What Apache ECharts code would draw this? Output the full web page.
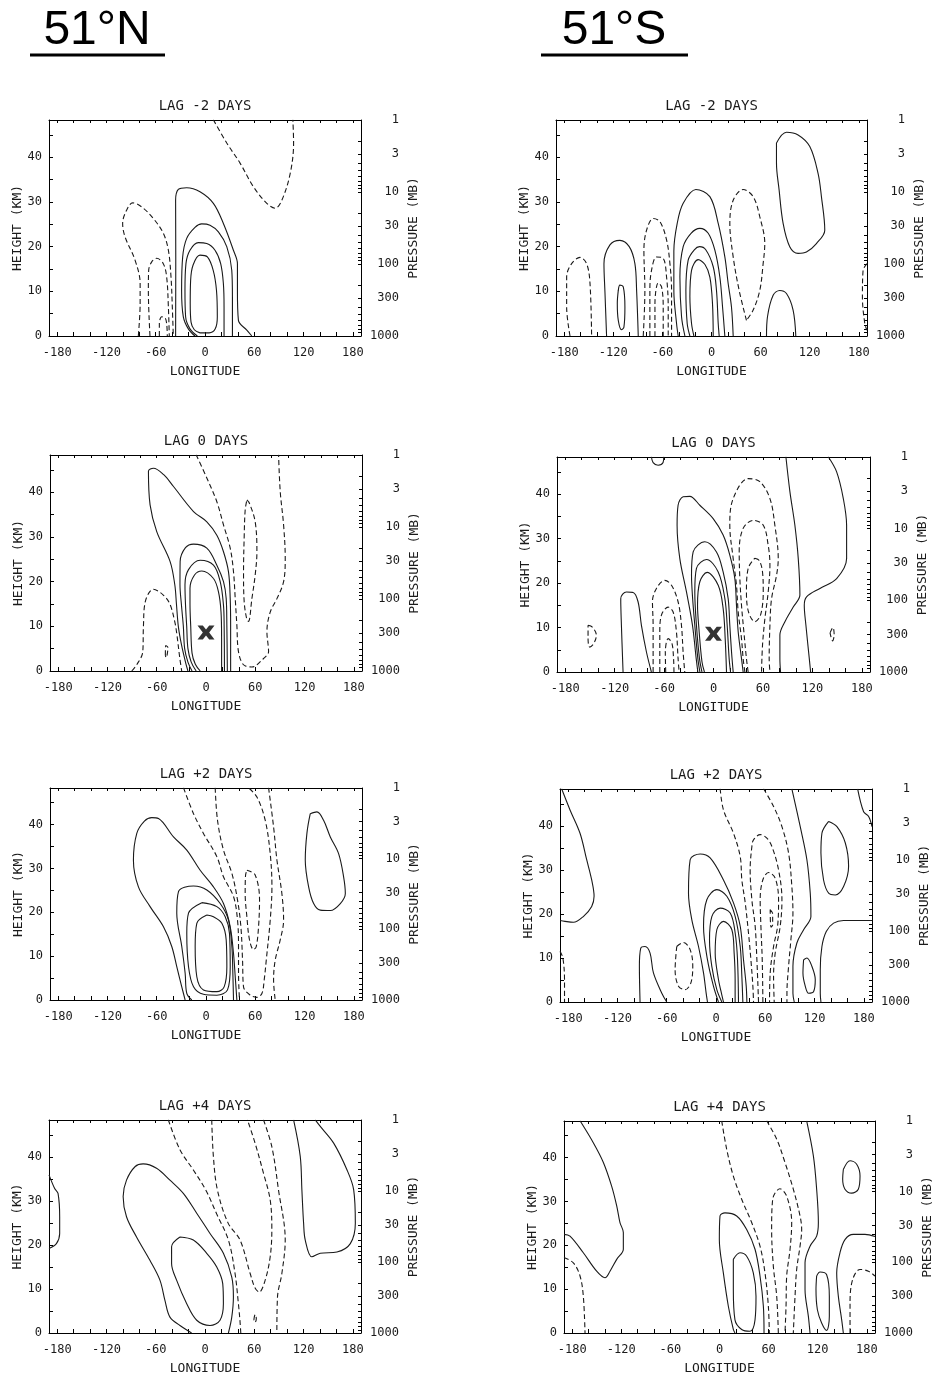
<!DOCTYPE html>
<html>
<head>
<meta charset="utf-8">
<script src="https://cdn.jsdelivr.net/npm/echarts@6/dist/echarts.min.js"></script>
<style>
html, body { margin: 0; padding: 0; background: #fff; }
#chart { width: 935px; height: 1377px; }
</style>
</head>
<body>
<div id="chart"></div>
<script>
// axis ticks and labels
var lonTicks = [-180, -120, -60, 0, 60, 120, 180];
var heightTicks = [0, 10, 20, 30, 40];
var pressureTicks = [1000, 300, 100, 30, 10, 3, 1];
var lagTitles = ['LAG -2 DAYS', 'LAG 0 DAYS', 'LAG +2 DAYS', 'LAG +4 DAYS'];
var latTitles = ['51°N', '51°S'];
var basePoint = [[0, 8.6]];   // the X at lag 0

// contour lines, [longitude, height km]; solid = positive, dashed = negative

// 51N lag -2
var n_m2_solid = [
  [[-35.8,0],[-35.6,17.7],[-35.8,30.4],[-32.5,32.8],[-22.4,33.2],[-6.1,32.3],[10.2,29.7],[22.4,25.2],[34.6,19.2],[39.5,16.2],[39.5,10.2],[40.7,3.5],[50.9,1.3],[57,0]],
  [[-12.2,0],[-20.3,1.6],[-26.4,4.3],[-28.5,10.2],[-27.2,17.7],[-22.4,21.8],[-12.2,24.3],[-4,25.1],[6.1,24.8],[16.3,23.3],[26.5,20],[32.6,14.7],[33.4,8.8],[33.4,0]],
  [[-9.3,0],[-18.3,1.6],[-23.6,4.3],[-24.4,10.2],[-23.2,16.2],[-18.3,19.2],[-8.1,20.9],[2.1,20.7],[12.2,19.2],[19.1,16.2],[22.4,11.7],[23.2,6.5],[23.2,0]],
  [[-6.1,0.7],[-13,1.4],[-17,3.1],[-18,7.3],[-17.5,12.5],[-14.5,15.9],[-6.1,18.1],[2.9,17.7],[10,14.7],[14,10.2],[15,4.3],[12.5,1.6],[5,0.7],[-6.1,0.7]]
];
var n_m2_dash = [
  [[10.2,48.4],[26.5,43.2],[42.7,38.7],[59,33.4],[75.3,29.7],[85.5,28.6],[93.6,30.4],[103.8,36.4],[107.9,43.2],[107,48.4]],
  [[-81.2,0],[-79,7.3],[-79,11.7],[-85.2,17],[-97.4,22.2],[-100.3,25.2],[-95.4,28.2],[-88.1,29.8],[-77.1,28.9],[-62.9,26.3],[-50.8,23],[-44.6,19.2],[-41.4,13.2],[-39.8,6.5],[-38.6,0]],
  [[-67,0],[-69,10.2],[-68.6,14.7],[-64.9,16.6],[-58.8,17.4],[-50.8,16.2],[-46.7,13.2],[-44.6,6.5],[-43.5,0]],
  [[-55.6,0],[-55.6,2.8],[-52.7,4.3],[-48.7,4.1],[-46.7,2.8],[-45.9,0]]
];

// 51S lag -2
var s_m2_solid = [
  [[79.4,43.2],[91.6,45.6],[105.8,45],[120.1,42.4],[130.2,36.4],[134.3,31.2],[138.4,23.7],[128.2,20.7],[116,18.8],[105.8,18.5],[95.6,20],[87.5,25.2],[82.6,32.7],[79.4,38.7],[79.4,43.2]],
  [[67.2,0],[68.4,4.3],[75.3,9.1],[83.4,10.2],[91.6,9.5],[99.7,5.8],[103,0]],
  [[-40.7,0],[-42.7,2.8],[-46,10.2],[-46,19],[-41.9,25.2],[-34.6,29.7],[-19.1,32.8],[-2,31.2],[8.2,25.2],[16.3,17.7],[20.4,11.7],[24.4,6.5],[26.5,0]],
  [[-32.5,0],[-36.6,4.3],[-38.6,13.2],[-34.6,20],[-25,23],[-14.2,24.1],[-4,23],[4.1,19.2],[10.2,13.2],[13.5,6.5],[16.3,0]],
  [[-26.4,0],[-29.7,2.8],[-31.3,10.2],[-28.5,17],[-21,19.3],[-14.6,20],[-7,19.3],[2.1,15.5],[6.1,10.2],[8.2,2.8],[9.4,0]],
  [[-21.5,0],[-24.4,2.8],[-26.4,8.8],[-24.4,14.7],[-16.3,17.1],[-8,16],[-2,13.2],[1.2,7.3],[2.1,0]],
  [[-128.2,0],[-130.2,9.9],[-131.4,16.2],[-124.1,20.4],[-111.9,21.4],[-100.5,20],[-93.6,16.2],[-91.5,10.2],[-89.5,0]],
  [[-113.9,10.2],[-111.9,11.4],[-107.8,11],[-105.8,6.5],[-107,2],[-110,1.4],[-113.9,3.5],[-115.1,7.3],[-113.9,10.2]]
];
var s_m2_dash = [
  [[42.7,3.5],[33.8,10.2],[26.5,17.7],[22.4,25.2],[26.5,30.4],[38.7,32.8],[50.9,31.2],[59,26.7],[65.1,20.7],[63.1,16.2],[59,10.2],[50.9,5.8],[42.7,3.5]],
  [[190,16.2],[185.2,14.7],[184.4,8.8],[187.3,2.8],[190,1.3]],
  [[-172.9,0],[-177,6.5],[-177,13.2],[-170.9,16.2],[-160.7,17.6],[-152.6,16.2],[-148.5,11.9],[-146.5,0]],
  [[-83.4,0],[-81.4,10.2],[-82.6,19.2],[-79.3,23.7],[-71.2,26.3],[-63,25.6],[-54.9,21.5],[-50.8,16.2],[-48.8,10.2],[-48.8,0]],
  [[-75.3,0],[-75.3,10.2],[-73.3,14.7],[-67.1,17.7],[-59,17.4],[-54.9,13.2],[-52.9,6.5],[-52.9,0]],
  [[-69.1,0],[-69.1,7.3],[-65.1,11.9],[-61,11],[-59,6.5],[-59,0]]
];

// 51N lag 0
var n_0_solid = [
  [[-22,0],[-25,2],[-30,6],[-33.7,10],[-36,15],[-38,19.3],[-43.7,24.5],[-60,31.2],[-68.1,37.2],[-70.1,44.7],[-64,45.4],[-51.8,44],[-39.6,41.3],[-15.2,35.7],[1,33.4],[13.2,30.4],[21.3,26.7],[27.4,22.2],[29.5,16.2],[30,10.2],[30,0]],
  [[-17,0],[-22,2],[-26,5],[-27.6,10],[-30,15],[-31.7,19.3],[-31.5,24.5],[-25,27.6],[-15.2,28.4],[1,27.5],[13.2,23.7],[21.3,20],[24.6,16.2],[25.4,10.2],[26,0]],
  [[-12,0],[-18,2],[-22,5],[-23.5,10],[-25,15],[-25.6,19.3],[-21.3,22.7],[-7.1,24.8],[9.1,23.7],[17.3,20],[21.3,14.7],[22.1,10.2],[22.5,0]],
  [[-7,0],[-13,1.5],[-17,4],[-18.6,10],[-19.5,15],[-19.5,18.5],[-14,21.5],[-5.1,22.4],[9.1,20.7],[15.2,17.7],[18.3,13.2],[19,7.3],[19,0]]
];
var n_0_dash = [
  [[-90.4,0],[-84,1.5],[-77,4.3],[-76.2,10],[-74,15.5],[-64,18.3],[-52,17],[-44,15],[-38,11],[-35.7,8.5],[-32,3],[-29.6,0]],
  [[-49.5,3.5],[-49,5.7],[-46.5,5.3],[-47,4],[-48.5,3],[-49.5,3.5]],
  [[-12,48.4],[1,43.2],[13.2,37.9],[21.3,32.7],[29.5,27.5],[33.5,22.2],[35.6,16.2],[37.6,10.2],[39.6,4.3],[45.7,1.4],[55.9,0.9],[70.1,2.8],[76.2,4.3],[74.2,8.8],[78.2,13.2],[86.4,16.2],[94.5,20],[96.5,25.2],[94.5,32.7],[90.4,40.2],[88.4,48.4]],
  [[49.8,38.3],[53,37.5],[59.9,33.4],[62,26.7],[59.9,21.5],[55.9,16.2],[51.8,11.1],[49.8,11.5],[46.5,15.5],[45.7,22],[46.5,30],[47.7,36],[49.8,38.3]]
];

// 51S lag 0
var s_0_solid = [
  [[-75.4,48.4],[-73.3,47.1],[-67.3,46.5],[-61.2,47.1],[-60.4,48.4]],
  [[-19,0],[-21,3],[-25.5,10.5],[-32.8,18],[-40.9,25.5],[-44.2,33],[-43,37.5],[-36.9,39.4],[-28.8,39.5],[-16.6,37.5],[-0.4,34.5],[11.7,30.8],[19.8,26.3],[25.9,21],[27.9,15],[30,9],[34,3],[36,0]],
  [[-16.5,0],[-19,3],[-22.7,10.5],[-25.5,17],[-26.7,21.8],[-24.7,27],[-10.5,29.3],[3.6,27],[11.7,22.5],[17.8,16.5],[19.8,10.5],[21.9,4.5],[23.9,0]],
  [[-14,0],[-17,3],[-20.7,10.5],[-22.7,18],[-20.7,23.3],[-8.5,25.3],[5.7,22.5],[13.8,16.5],[16.6,10.5],[19,3],[20.7,0]],
  [[-11,0],[-14,2.3],[-17.8,10],[-19.4,15],[-16.6,20.3],[-7.7,22.4],[5.7,19.5],[11.7,14.3],[14.2,7.5],[15.8,0]],
  [[-109.8,0],[-111.8,10.5],[-112.6,16.5],[-105.7,18],[-97.6,17.9],[-91.6,15.8],[-87.5,10.5],[-81.4,4.5],[-75.4,0]],
  [[87.9,48.4],[92.8,40.5],[98.8,33],[102.9,25.5],[104.9,17.3],[96.8,14.6],[86.7,11.3],[80.6,8.3],[80.6,3],[81.4,0]],
  [[139.3,48.4],[149.5,45],[157.6,39],[161.6,33],[161.6,25.5],[149.5,21],[129.2,18.8],[113,16.9],[110.2,15],[112.2,10.5],[116.3,3],[117.9,0]]
];
var s_0_dash = [
  [[-152.3,10.5],[-147.1,10.1],[-142.2,8.3],[-145.4,6.4],[-150.3,5.6],[-152.3,7.5],[-152.3,10.5]],
  [[-73.3,0],[-73.3,10.5],[-74.1,15.8],[-69.3,18.8],[-59.1,20.6],[-51,19.5],[-43,15.8],[-38.9,10.5],[-36.9,4.5],[-34.9,0]],
  [[-65.2,0],[-65.2,9],[-63.2,12.8],[-55.1,14.6],[-49,13.5],[-45,9],[-43,3],[-41.7,0]],
  [[-58,0],[-58.5,4.5],[-55,7.5],[-50.5,6.5],[-48.5,3],[-48,0]],
  [[38.1,0],[36,3],[34,7.5],[30,13.5],[27.9,19.5],[23.9,25.5],[19.8,33],[23.9,39],[42.1,43.5],[56.3,42.8],[68.5,39],[74.5,33],[78.6,25.5],[76.6,21.8],[70.5,16.5],[68.5,10.5],[67.6,3],[68.5,0]],
  [[42.1,0],[40,3],[36.9,9],[34,15],[32,21],[31.2,27],[36,32.3],[48.2,34.1],[60.4,33],[66.4,28.5],[68.5,24],[66.4,18],[62.4,12],[59.5,6],[58.3,0]],
  [[50.2,25.6],[55.5,25.1],[59.5,22.5],[60.4,18],[57.1,12.8],[50.2,11.3],[42.5,13.5],[40,18],[42.1,23.3],[50.2,25.6]],
  [[141.5,8.8],[145,10],[146.5,8.3],[144.5,7],[141.5,8.8]]
];

// 51N lag +2
var n_p2_solid = [
  [[-25.4,0],[-29.5,3],[-35.6,7.6],[-41.7,12.2],[-51.8,16.7],[-68.1,21.3],[-82.3,25.8],[-88.4,31.9],[-84.3,38],[-75,40.8],[-66,41.6],[-57.9,41.4],[-39.6,37.2],[-23.4,34.2],[-7.1,29.6],[9.1,25.8],[21.3,22],[29.5,16.7],[33.5,10.6],[35.6,5.3],[37.6,0]],
  [[-17.3,0],[-23.4,1.5],[-25.4,6.1],[-29.5,12.2],[-35.6,19.8],[-33.5,24.7],[-15.2,26],[1,25.1],[17.3,22],[27.4,18.2],[31.5,12.2],[32.7,6.1],[33.5,0]],
  [[-5.1,22.2],[-21.3,19.8],[-23.4,15.2],[-21.3,7.6],[-15.2,3],[-3.1,1.3],[13.2,1.1],[26.2,2.3],[29.5,7.6],[28.6,15.2],[23.4,19],[13.2,21.3],[-5.1,22.2]],
  [[1,19.4],[-11.2,17.5],[-13.2,12.2],[-11.2,5.3],[-3.1,2.3],[13.2,1.9],[22.1,3],[25.4,7.6],[24.6,13.7],[19.3,17.5],[9.1,19],[1,19.4]],
  [[127,42.5],[135.1,42.9],[143.2,41],[151.4,37.2],[161.5,33.4],[167.6,28.1],[169.7,24.3],[163.6,22],[151.4,20.4],[139.2,20.5],[131.1,22],[125,25.8],[120.9,31.9],[122.9,38],[127,42.5]]
];
var n_p2_dash = [
  [[-27.4,48.4],[-15.2,42.5],[-3.1,38],[13.2,32.7],[21.3,28.1],[33.5,23.6],[38.4,18.2],[39.6,12.2],[39.6,6.1],[40.8,0]],
  [[76.2,48.4],[82.3,39.5],[86.4,31.9],[92.4,24.3],[94.5,18.2],[90.4,13.7],[84.3,9.1],[82.3,4.6],[84.3,0]],
  [[11.2,48.4],[14,41],[21.3,34.2],[31.5,28.9],[38.4,22.8],[42.5,16.7],[44.5,9.1],[45.7,3],[53.8,1.1],[62,0.6],[68.1,1.5],[70.9,4.6],[73.4,9.1],[78.2,18.2],[80.3,25.8],[78.2,33.4],[72.1,41],[62,46.3],[51.8,48.4]],
  [[49.8,29.6],[59.9,28.5],[65.2,22.8],[64,16.7],[61.2,12.2],[57.9,11.5],[53,13.7],[49.8,19],[47.7,24.3],[48.2,28.5],[49.8,29.6]]
];

// 51S lag +2
var s_p2_solid = [
  [[-188,48.4],[-177.8,43.6],[-165.6,38.3],[-157.5,32.3],[-151.4,27.7],[-148.5,24],[-151.4,21.7],[-161.6,19.4],[-173.7,18.1],[-183.9,18.3],[-190,18.5]],
  [[-92.5,0],[-93.3,8.1],[-91.7,12.2],[-86.4,12.6],[-80.3,11.1],[-76.2,6.6],[-66,2],[-60,0]],
  [[-10.4,0],[-12,2],[-15.2,6.6],[-21.3,12.6],[-29.5,18.7],[-33.5,24.7],[-31.5,32.3],[-19.3,33.6],[-7.1,32.7],[9.1,27.7],[21.3,22.5],[29.5,17.2],[33.5,9.6],[36.8,3.6],[37.6,0]],
  [[3,0],[-3.1,3.6],[-10.4,9.6],[-15.2,17.2],[-11.2,23.2],[1,25.5],[13.2,24],[23.4,19.4],[29.5,12.6],[31.5,5.8],[32.7,0]],
  [[7.1,0],[1,2.8],[-5.1,8.1],[-7.9,14.1],[-5.1,19.4],[5.1,21.3],[17.3,20.2],[23.4,15.6],[26.2,9.6],[27.4,0]],
  [[9.1,0],[6,2.5],[3,5.1],[-1,11.1],[1,16.4],[9.1,18.3],[19.3,16.4],[22.1,11.1],[23.3,5.1],[23.3,0]],
  [[92.4,48.4],[102.6,39.8],[110.7,32.3],[114.8,24.7],[115.6,19.4],[106.7,16.4],[98.5,13.4],[93.7,8.1],[93.7,2],[95.3,0]],
  [[190,18.5],[155.4,18.5],[143.2,17.9],[134.3,16],[129,12.6],[127,7.3],[127,2],[127.8,0]],
  [[172.5,48.4],[179.8,43.2],[185.9,42.1],[190,39.8]],
  [[137.2,41],[147.3,39.8],[157.5,36.1],[161.5,30.8],[155.4,26.2],[145.3,24.3],[137.2,24.7],[131,27.7],[127.8,33.8],[129,38.3],[137.2,41]],
  [[106.7,9.6],[110.7,10],[116.8,8.1],[120.9,5.1],[118.9,2.4],[112.8,2],[108.7,3.6],[105.9,6.6],[106.7,9.6]]
];
var s_p2_dash = [
  [[-190,11.5],[-186.5,10],[-184.5,5],[-184.5,0]],
  [[-47.8,12.6],[-39.6,13.5],[-31.5,11.9],[-28.3,8.1],[-30.7,4.3],[-37.6,2.8],[-45.7,3.6],[-49.8,7.3],[-47.8,12.6]],
  [[5.1,48.4],[9.1,43.6],[21.3,38.3],[29.5,33],[31.5,27.7],[35.6,22.5],[39.6,15.6],[42.5,9.6],[44.9,3.6],[45.7,0]],
  [[57.9,48.4],[70.1,44.4],[80.3,39.8],[88.4,33.8],[92.4,26.2],[93.7,20.2],[91.2,14.1],[88.4,8.1],[86.4,2],[86.4,0]],
  [[51.8,0],[49.8,9.6],[47.7,17.2],[43.7,23.2],[41.6,30],[43.7,35.3],[45.7,36.8],[53.8,38],[62,37.2],[68.1,35.3],[76.2,30],[80.3,23.2],[78.2,17.2],[72.1,11.1],[70.1,5.8],[70.9,0]],
  [[57.1,0],[56.3,9.6],[54.7,17.2],[53.8,23.2],[57,27.7],[64,29.4],[72.1,28.1],[76.2,23.2],[75,17.2],[70.1,12.6],[66,6.6],[65.2,0]],
  [[66,21],[69,20],[69,17.5],[67,17],[66,21]]
];

// 51N lag +4
var n_p4_solid = [
  [[-190,35.9],[-183.1,32.8],[-179,31.7],[-177,26.4],[-177,22.6],[-181,20.3],[-190,19.2]],
  [[-16.3,0],[-30.5,1.7],[-42.7,3.6],[-48.8,7.4],[-54.9,12],[-67.1,16.5],[-83.4,21.8],[-95.6,26.4],[-99.7,31],[-95.6,34.7],[-85,37.8],[-75.3,38.4],[-59,37.4],[-42.7,34.7],[-26.4,31.7],[-10.1,27.2],[6.1,22.6],[22.4,18.1],[32.6,12.7],[34.6,8.2],[32.6,3.6],[28.5,0]],
  [[-30.5,21.8],[-40.7,19.6],[-40.7,15.8],[-34.6,12],[-22.4,6.7],[-10.1,2.9],[6.1,1.7],[18.3,2.9],[22.4,6.7],[21.6,11.2],[14.3,15],[2.1,18.1],[-14.2,21.1],[-30.5,21.8]],
  [[107.9,48.4],[116,40.1],[118,32.5],[120.1,24.9],[122.1,21.1],[130.2,17.3],[140.4,18.1],[160.7,18.4],[177,20.3],[183.1,24.9],[181.1,32.5],[173,37],[156.7,43.1],[140.4,46.9],[134.3,48.4]]
];
var n_p4_dash = [
  [[-44.7,48.4],[-30.5,41.6],[-14.2,37],[0.8,32.5],[14.3,27],[28.5,21.1],[36.6,13.5],[40.5,7],[42.5,3],[43.6,0]],
  [[8.2,48.4],[10.2,40.1],[15.1,32.5],[28,25],[42.7,21.1],[55,13.5],[61,10.2],[66,9.3],[73.3,12],[79.4,17.3],[81.4,23.4],[79.4,30.2],[71.2,36.3],[61,43.1],[51.7,48.4]],
  [[71.2,48.4],[81.4,42.3],[89.5,32.5],[97.7,21.1],[93.6,13.5],[88.3,8.2],[87.5,0]],
  [[59.5,3],[61,4.2],[62.5,3.3],[61,2.4],[59.5,3]]
];

// 51S lag +4
var s_p4_solid = [
  [[-170.4,48.4],[-154.2,43.4],[-141.9,38.9],[-131.8,33.5],[-125.6,29],[-121.6,25.2],[-117.5,22.9],[-117.5,19.1],[-125.6,16.8],[-133.8,14.1],[-139.9,12.6],[-150.1,14.1],[-166.4,18.3],[-182.7,22.1],[-190,22.5]],
  [[18.9,0],[16.9,0.8],[10.8,6.1],[4.7,13.7],[-0.2,21.3],[0.6,26.7],[6.7,27.4],[21,26.7],[33.2,23.6],[43.4,19.1],[49.5,13],[53.6,6.1],[54.4,0]],
  [[16.9,16.8],[25,18.3],[33.2,17.5],[41.3,13.7],[44.6,8.4],[43.4,3],[37.3,0.4],[27.1,0.8],[18.9,3],[16.9,9.9],[16.9,16.8]],
  [[106.5,48.4],[114.7,40.4],[118.7,32.8],[120.8,25.2],[118.7,22.1],[110.6,19.8],[104.5,16],[104.5,9.9],[108.6,3.8],[110.6,0]],
  [[118.7,13],[122.8,13.9],[130.9,13.3],[134.2,8.4],[134.2,3.8],[130.9,0.6],[124.8,2.3],[119.6,5.3],[117.9,9.9],[118.7,13]],
  [[190,22],[177.8,22.5],[163.5,22.5],[153.3,21.3],[147.2,18.3],[143.2,13.7],[145.2,8.4],[149.3,3],[151.3,0]],
  [[151.3,37.3],[159.5,39.3],[167.6,38.5],[171.7,35.8],[169.6,32.8],[161.5,31.9],[153.3,32.8],[150.5,35.1],[151.3,37.3]]
];
var s_p4_dash = [
  [[-190,17.2],[-178.6,16],[-170.4,13],[-166.4,8.4],[-164.3,0]],
  [[2.7,48.4],[8.8,41.9],[16.9,35.8],[27.1,30.5],[39.3,25.2],[49.5,19.8],[55.6,13.7],[59.7,6.1],[60.9,0]],
  [[57.6,48.4],[69.9,44.2],[80,38.9],[90.2,32.8],[98.4,26.7],[100.4,23.6],[98.4,19.8],[94.3,14.5],[92.3,8.4],[90.2,0]],
  [[71.9,0],[69.9,8.4],[65.8,15.2],[63.7,23.6],[65,30.5],[73.9,32.9],[82.1,31.2],[88.2,25.2],[86.2,19.1],[82.1,13],[81.3,6.1],[80,0]],
  [[159.5,0],[159.5,6.9],[162.7,12.2],[171.7,14.5],[181.9,14.1],[190,13]]
];

// panel order: left column 51N, right column 51S, rows by lag
var panels = [
  { row: 0, solid: n_m2_solid, dash: n_m2_dash, mark: null },
  { row: 0, solid: s_m2_solid, dash: s_m2_dash, mark: null },
  { row: 1, solid: n_0_solid,  dash: n_0_dash,  mark: basePoint },
  { row: 1, solid: s_0_solid,  dash: s_0_dash,  mark: basePoint },
  { row: 2, solid: n_p2_solid, dash: n_p2_dash, mark: null },
  { row: 2, solid: s_p2_solid, dash: s_p2_dash, mark: null },
  { row: 3, solid: n_p4_solid, dash: n_p4_dash, mark: null },
  { row: 3, solid: s_p4_solid, dash: s_p4_dash, mark: null }
];

// plot boxes in pixels: left, top, width, height
var boxes = [
  [49, 120, 312, 216], [556, 120, 311, 216],
  [50, 455, 312, 216], [557, 457, 313, 215],
  [50, 788, 312, 212], [560, 789, 312, 213],
  [49, 1120, 312, 213], [564, 1121, 311, 212]
];

var H = 7;                       // scale height, km
var ZTOP = H * Math.log(1000);   // 1 mb
function zOf(p) { return H * Math.log(1000 / p); }

var mono = '"DejaVu Sans Mono", monospace';
var ink = '#1a1a1a';

var lonMarks = [];
for (var l = -180; l <= 180; l += 20) lonMarks.push(l);
var heightMarks = [0, 5, 10, 15, 20, 25, 30, 35, 40, 45];
var presMarks = [];
[1, 10, 100].forEach(function (d) {
  for (var k = 1; k <= 9; k++) presMarks.push(zOf(k * d));
});
presMarks.push(0);
var presLabelPos = pressureTicks.map(zOf);

var chart = echarts.init(document.getElementById('chart'), null, { renderer: 'canvas' });

var option = {
  animation: false,
  backgroundColor: '#fff',
  grid: [], xAxis: [], yAxis: [], series: [], graphic: []
};

var nameStyle = { fontFamily: mono, fontSize: 13, color: ink };

panels.forEach(function (p, i) {
  var b = boxes[i];
  option.grid.push({ left: b[0], top: b[1], width: b[2], height: b[3], outerBoundsMode: 'none', containLabel: false });

  option.xAxis.push({
    gridIndex: i, type: 'value', min: -190, max: 190, position: 'bottom',
    axisLine: { show: true, onZero: false, lineStyle: { color: '#000', width: 1 } },
    axisTick: { show: true, inside: true, length: 4, customValues: lonMarks, lineStyle: { color: '#000' } },
    axisLabel: { customValues: lonTicks, margin: 11, fontFamily: mono, fontSize: 12, color: ink },
    splitLine: { show: false },
    name: 'LONGITUDE', nameLocation: 'middle', nameGap: 29, nameTextStyle: nameStyle
  });
  option.xAxis.push({
    gridIndex: i, type: 'value', min: -190, max: 190, position: 'top',
    axisLine: { show: true, onZero: false, lineStyle: { color: '#000', width: 1 } },
    axisTick: { show: true, inside: true, length: 3, customValues: lonMarks, lineStyle: { color: '#000' } },
    axisLabel: { show: false },
    splitLine: { show: false }
  });
  option.yAxis.push({
    gridIndex: i, type: 'value', min: 0, max: ZTOP, position: 'left',
    axisLine: { show: true, onZero: false, lineStyle: { color: '#000', width: 1 } },
    axisTick: { show: true, inside: true, length: 4, customValues: heightMarks, lineStyle: { color: '#000' } },
    axisLabel: { customValues: heightTicks, margin: 7, fontFamily: mono, fontSize: 12, color: ink },
    splitLine: { show: false },
    name: 'HEIGHT (KM)', nameLocation: 'middle', nameGap: 25, nameRotate: 90, nameTextStyle: nameStyle
  });
  option.yAxis.push({
    gridIndex: i, type: 'value', min: 0, max: ZTOP, position: 'right',
    axisLine: { show: true, onZero: false, lineStyle: { color: '#000', width: 1 } },
    axisTick: { show: true, inside: true, length: 3, customValues: presMarks, lineStyle: { color: '#000' } },
    axisLabel: {
      customValues: presLabelPos, margin: 38, align: 'right',
      fontFamily: mono, fontSize: 12, color: ink,
      formatter: function (v) { return String(Math.round(1000 * Math.exp(-v / H))); }
    },
    splitLine: { show: false },
    name: 'PRESSURE (MB)', nameLocation: 'middle', nameGap: 46, nameRotate: 90, nameTextStyle: nameStyle
  });

  p.solid.forEach(function (line) {
    option.series.push({
      type: 'line', xAxisIndex: 2 * i, yAxisIndex: 2 * i, data: line,
      showSymbol: false, symbol: 'none', smooth: 0.35, silent: true,
      lineStyle: { color: ink, width: 1.1, type: 'solid' }
    });
  });
  p.dash.forEach(function (line) {
    option.series.push({
      type: 'line', xAxisIndex: 2 * i, yAxisIndex: 2 * i, data: line,
      showSymbol: false, symbol: 'none', smooth: 0.35, silent: true,
      lineStyle: { color: ink, width: 1.1, type: [5, 3] }
    });
  });
  if (p.mark) {
    option.series.push({
      type: 'scatter', xAxisIndex: 2 * i, yAxisIndex: 2 * i, data: p.mark,
      symbol: 'path://M0,0 L5,0 L8,4 L11,0 L16,0 L11,7 L16,14 L11,14 L8,10 L5,14 L0,14 L5,7 Z',
      symbolSize: [17, 14], itemStyle: { color: '#000' }, silent: true, z: 5
    });
  }

  option.graphic.push({
    type: 'text', silent: true,
    x: b[0] + b[2] / 2, y: b[1] - 14,
    style: {
      text: lagTitles[p.row], font: '14px ' + mono, fill: ink,
      textAlign: 'center', textVerticalAlign: 'middle', align: 'center', verticalAlign: 'middle'
    }
  });
});

// column headings
var headX = [97, 614];
var underline = [[30, 165], [541, 688]];
latTitles.forEach(function (t, k) {
  option.graphic.push({
    type: 'text', silent: true, x: headX[k], y: 31,
    style: {
      text: t, font: '48px "Liberation Sans Narrow", "Liberation Sans", Arial, sans-serif', fill: '#000',
      textAlign: 'center', textVerticalAlign: 'middle', align: 'center', verticalAlign: 'middle'
    }
  });
  option.graphic.push({
    type: 'line', silent: true,
    shape: { x1: underline[k][0], y1: 55, x2: underline[k][1], y2: 55 },
    style: { stroke: '#000', lineWidth: 3 }
  });
});

chart.setOption(option);
</script>
</body>
</html>
